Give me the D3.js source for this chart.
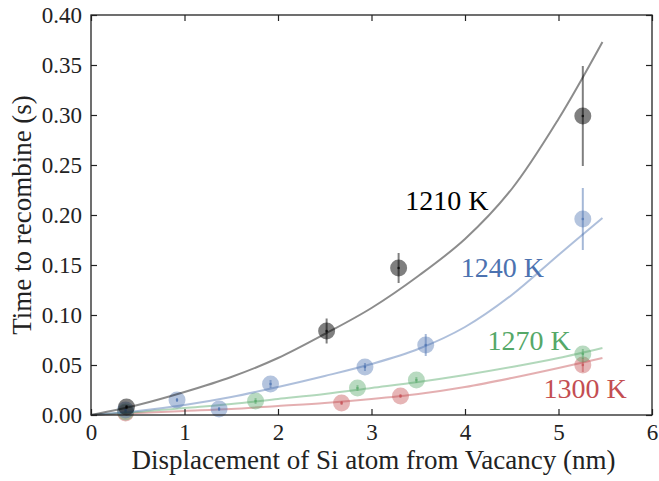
<!DOCTYPE html>
<html>
<head>
<meta charset="utf-8">
<script src="https://cdn.jsdelivr.net/npm/d3@7"></script>
</head>
<body style="margin:0">
<svg width="659" height="481"></svg>
<script>
// temperatures (series names)
var temps = ["1210 K", "1240 K", "1270 K", "1300 K"];

// measured points, per temperature
var ptsX1210 = [0.38, 2.52, 3.29, 5.26];
var ptsY1210 = [0.008, 0.084, 0.147, 0.299];
var err1210  = [0.002, 0.0125, 0.015, 0.05];

var ptsX1240 = [0.37, 0.92, 1.37, 1.92, 2.93, 3.58, 5.26];
var ptsY1240 = [0.005, 0.015, 0.006, 0.031, 0.048, 0.070, 0.196];
var err1240  = [0.001, 0.002, 0.002, 0.004, 0.004, 0.011, 0.031];

var ptsX1270 = [0.37, 1.76, 2.85, 3.48, 5.26];
var ptsY1270 = [0.003, 0.014, 0.027, 0.035, 0.061];
var err1270  = [0.001, 0.003, 0.003, 0.003, 0.005];

var ptsX1300 = [0.37, 2.68, 3.31, 5.26];
var ptsY1300 = [0.002, 0.012, 0.019, 0.050];
var err1300  = [0.001, 0.002, 0.002, 0.007];

// fitted curves
var fitX     = [0, 0.5, 1, 1.5, 2, 2.5, 3, 3.5, 4, 4.5, 5, 5.47];
var fitY1210 = [0, 0.010, 0.023, 0.038, 0.057, 0.081, 0.107, 0.139, 0.176, 0.226, 0.296, 0.373];
var fitY1240 = [0, 0.004, 0.010, 0.018, 0.028, 0.039, 0.051, 0.066, 0.088, 0.120, 0.160, 0.197];
var fitY1270 = [0, 0.003, 0.007, 0.011, 0.016, 0.021, 0.027, 0.033, 0.040, 0.048, 0.057, 0.067];
var fitY1300 = [0, 0.002, 0.004, 0.006, 0.009, 0.012, 0.016, 0.021, 0.028, 0.037, 0.047, 0.057];

// where the temperature labels sit (data units)
var labelX = [3.36, 3.955, 4.24, 4.84];
var labelY = [0.205, 0.138, 0.0655, 0.017];

var xTicks = [0, 1, 2, 3, 4, 5, 6];
var yTicks = [0, 0.05, 0.10, 0.15, 0.20, 0.25, 0.30, 0.35, 0.40];

var colors = ["#000000", "#4C72B0", "#55A868", "#C44E52"];
var serif = "Liberation Serif";

var series = [
  {x: ptsX1210, y: ptsY1210, e: err1210, f: fitY1210},
  {x: ptsX1240, y: ptsY1240, e: err1240, f: fitY1240},
  {x: ptsX1270, y: ptsY1270, e: err1270, f: fitY1270},
  {x: ptsX1300, y: ptsY1300, e: err1300, f: fitY1300}
];

var svg = d3.select("svg");
svg.append("style").text("text { font-family: 'Liberation Serif'; }");

var margin = {top: 15, right: 7, bottom: 66, left: 91};
var width = +svg.attr("width") - margin.left - margin.right;
var height = +svg.attr("height") - margin.top - margin.bottom;
var g = svg.append("g")
  .attr("transform", "translate(" + margin.left + "," + margin.top + ")");

var x = d3.scaleLinear().domain([0, 6]).range([0, width]);
var y = d3.scaleLinear().domain([0, 0.4]).range([height, 0]);

var line = d3.line()
  .x(function(d) { return x(d[0]); })
  .y(function(d) { return y(d[1]); })
  .curve(d3.curveCatmullRom);

// series drawn last first so black ends up on top
series.slice().reverse().forEach(function(s, k) {
  var i = series.length - 1 - k;
  var c = colors[i];
  var pts = s.x.map(function(v, j) { return {x: v, y: s.y[j], e: s.e[j]}; });

  g.append("path")
    .datum(fitX.map(function(v, j) { return [v, s.f[j]]; }))
    .attr("fill", "none")
    .attr("stroke", c)
    .attr("stroke-opacity", 0.45)
    .attr("stroke-width", 2)
    .attr("d", line);

  var p = g.append("g").selectAll("g")
    .data(pts)
    .enter().append("g");

  p.append("circle")
    .attr("cx", function(d) { return x(d.x); })
    .attr("cy", function(d) { return y(d.y); })
    .attr("r", 8.5)
    .attr("fill", c)
    .attr("fill-opacity", i == 0 ? 0.5 : 0.42);

  p.append("line")
    .attr("x1", function(d) { return x(d.x); })
    .attr("x2", function(d) { return x(d.x); })
    .attr("y1", function(d) { return y(d.y - d.e); })
    .attr("y2", function(d) { return y(d.y + d.e); })
    .attr("stroke", c)
    .attr("stroke-opacity", 0.5)
    .attr("stroke-width", 2);

  p.append("circle")
    .attr("cx", function(d) { return x(d.x); })
    .attr("cy", function(d) { return y(d.y); })
    .attr("r", 1.3)
    .attr("fill", c)
    .attr("fill-opacity", 0.7);
});

// temperature labels
g.append("g")
  .selectAll("text")
  .data(temps)
  .enter().append("text")
    .attr("x", function(d, i) { return x(labelX[i]); })
    .attr("y", function(d, i) { return y(labelY[i]); })
    .attr("fill", function(d, i) { return colors[i]; })
    .attr("font-size", 28)
    .attr("font-family", serif)
    .text(function(d) { return d; });

// axes, ticks pointing inward on all four sides
var tickLen = 6;
g.append("g")
  .attr("transform", "translate(0," + height + ")")
  .call(d3.axisBottom(x).tickValues(xTicks).tickSizeInner(-tickLen).tickSizeOuter(0).tickPadding(9).tickFormat(d3.format("d")));
g.append("g")
  .call(d3.axisTop(x).tickValues(xTicks).tickSizeInner(-tickLen).tickSizeOuter(0).tickFormat(""));
g.append("g")
  .call(d3.axisLeft(y).tickValues(yTicks).tickSizeInner(-tickLen).tickSizeOuter(0).tickPadding(9).tickFormat(d3.format(".2f")));
g.append("g")
  .attr("transform", "translate(" + width + ",0)")
  .call(d3.axisRight(y).tickValues(yTicks).tickSizeInner(-tickLen).tickSizeOuter(0).tickFormat(""));

g.selectAll(".domain").remove();
g.selectAll(".tick line").attr("stroke", "#222").attr("stroke-width", 1.2);
g.selectAll("g").attr("font-family", serif);
g.selectAll(".tick text")
  .attr("font-size", 23)
  .attr("fill", "#222")
  .attr("font-family", serif);

g.append("rect")
  .attr("width", width)
  .attr("height", height)
  .attr("fill", "none")
  .attr("stroke", "#222")
  .attr("stroke-width", 1.3);

svg.append("text")
  .attr("x", margin.left + width / 2 + 2)
  .attr("y", 469)
  .attr("text-anchor", "middle")
  .attr("font-size", 27)
  .attr("fill", "#222")
  .attr("font-family", serif)
  .text("Displacement of Si atom from Vacancy (nm)");

svg.append("text")
  .attr("transform", "translate(31," + (margin.top + height / 2) + ") rotate(-90)")
  .attr("text-anchor", "middle")
  .attr("font-size", 27)
  .attr("fill", "#222")
  .attr("font-family", serif)
  .text("Time to recombine (s)");
</script>
</body>
</html>
